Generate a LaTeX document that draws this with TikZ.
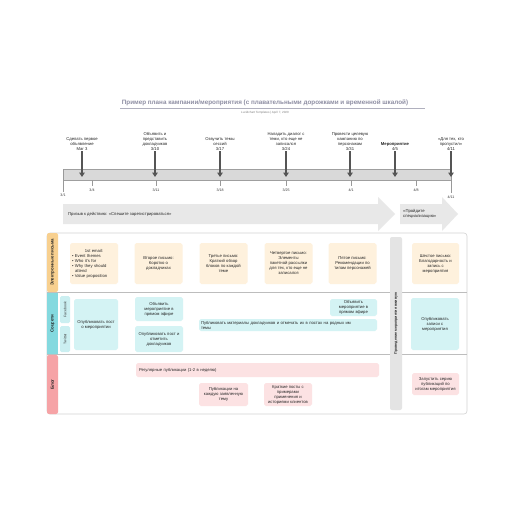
\documentclass[tikz,border=0pt]{standalone}
\usepackage{fontspec}
\setmainfont{Liberation Sans}
\usetikzlibrary{arrows.meta}
\definecolor{titlec}{HTML}{8E8EA3}
\definecolor{barc}{HTML}{D9D9D9}
\definecolor{bigarr}{HTML}{E8E8E8}
\definecolor{mcol}{HTML}{555555}
\definecolor{emailh}{HTML}{F8D08F}
\definecolor{emailc}{HTML}{FEF1DD}
\definecolor{socialh}{HTML}{84D9DF}
\definecolor{socialsub}{HTML}{CBEFF1}
\definecolor{socialc}{HTML}{D4F3F4}
\definecolor{blogh}{HTML}{F6A3A6}
\definecolor{blogc}{HTML}{FCE2E3}
\definecolor{lanec}{HTML}{BDBDBD}
\definecolor{liveg}{HTML}{E4E4E4}
\newcommand\cardf{\fontsize{4.2}{5}\selectfont}
\newcommand\tickf{\fontsize{3.6}{4.4}\selectfont}
\tikzset{
  card/.style={rounded corners=1.8pt, inner sep=0.8pt, align=center, font=\cardf, text=black!85},
  emailcard/.style={card, fill=emailc},
  socialcard/.style={card, fill=socialc},
  blogcard/.style={card, fill=blogc},
  mtext/.style={align=center, font=\cardf, text=black!85, inner sep=0.5pt},
  marrow/.style={mcol, line width=1.3pt, -{Triangle[length=4.5pt,width=5.5pt]}},
  tickline/.style={gray!80, line width=0.5pt},
  ticklabel/.style={font=\tickf, text=black!80, inner sep=0.5pt},
  lanehead/.style={inner sep=0pt, font=\fontsize{4.4}{5}\selectfont\bfseries, text=black!85},
  sublane/.style={inner sep=0pt, font=\fontsize{3.5}{4}\selectfont, text=black!80},
}
\begin{document}
\begin{tikzpicture}[x=1pt,y=-1pt]
\useasboundingbox (0,0) rectangle (516,516);
\fill[white] (0,0) rectangle (516,516);

% title
\node[font=\fontsize{6.3}{7}\selectfont\bfseries, text=titlec] (title) at (265,102.5)
  {Пример плана кампании/мероприятия (с плавательными дорожками и временной шкалой)};
\coordinate (tl) at (120,108.5);
\coordinate (tr) at (425,108.5);
\draw[titlec!70, line width=0.6pt] (tl) -- (tr);
\node[font=\fontsize{3}{3.6}\selectfont, text=gray] (sub) at (265,112.5) {Lucidchart Templates \textbar{} April 7, 2020};

% timeline bar
\node[draw=gray!75, fill=barc, line width=0.5pt, minimum width=388pt, minimum height=11pt, anchor=north west, inner sep=0pt] (bar) at (63,169) {};
\foreach \x/\l in {92/{3/4}, 156/{3/11}, 220/{3/18}, 286/{3/25}, 351/{4/1}, 416/{4/8}} {
  \draw[tickline] (\x,180) -- (\x,186);
  \node[ticklabel] at (\x,190.5) {\l};
}
\draw[tickline] (63,169) -- (63,192);
\node[ticklabel] (d0) at (63,195.5) {3/1};
\draw[tickline] (451,169) -- (451,193);
\node[ticklabel] (d1) at (451,197) {4/11};

% milestones
\node[mtext, anchor=south] (m1) at (82,151) {Сделать первое\\объявление\\Mar 3};
\node[mtext, anchor=south] (m2) at (155,151) {Объявить и\\представить\\докладчиков\\3/10};
\node[mtext, anchor=south] (m3) at (220,151) {Озвучить темы\\сессий\\3/17};
\node[mtext, anchor=south] (m4) at (286,151) {Наладить диалог с\\теми, кто еще не\\записался\\3/24};
\node[mtext, anchor=south] (m5) at (350,151) {Провести целевую\\кампанию по\\персонажам\\3/31};
\node[mtext, anchor=south] (m6) at (395,151) {\textbf{Мероприятие}\\4/5};
\node[mtext, anchor=south] (m7) at (451,151) {«Для тех, кто\\пропустил»\\4/11};
\foreach \i/\x in {1/82, 2/155, 3/220, 4/286, 5/350, 6/395, 7/451} {
  \coordinate (t\i) at (\x,177);
  \draw[marrow] (m\i.south) -- (t\i);
}

% big arrows
\fill[bigarr] (63,204) -- (378,204) -- (378,197) -- (395,214) -- (378,231) -- (378,224) -- (63,224) -- cycle;
\node[font=\cardf, anchor=west, inner sep=0pt, text=black!85] (cta1) at (68,214) {Призыв к действию: «Спешите зарегистрироваться»};
\fill[bigarr] (400,204) -- (442,204) -- (442,197) -- (458,214) -- (442,231) -- (442,224) -- (400,224) -- cycle;
\node[font=\cardf, anchor=west, inner sep=0pt, align=left, text=black!85] (cta2) at (403,214) {«Пройдите\\специализацию»};

% swimlane container
\draw[gray!35, line width=0.6pt, rounded corners=3pt, fill=white] (47,233) rectangle (467,414);
\draw[lanec, line width=0.8pt] (47,292.5) -- (467,292.5);
\draw[lanec, line width=0.8pt] (47,354.5) -- (467,354.5);

% lane headers
\fill[emailh, rounded corners=2pt] (47,233) rectangle (58,292);
\fill[socialh] (47,293) rectangle (58,354);
\fill[blogh, rounded corners=2pt] (47,355) rectangle (58,414);
\node[lanehead, rotate=90] (le) at (52.5,262.5) {Электронные письма};
\node[lanehead, rotate=90] (ls) at (52.5,323.5) {Соцсети};
\node[lanehead, rotate=90] (lb) at (52.5,384.5) {Блог};
\fill[socialsub, rounded corners=1.5pt] (60,296) rectangle (70,323);
\fill[socialsub, rounded corners=1.5pt] (60,326) rectangle (70,352);
\node[sublane, rotate=90] (fb) at (65,309.5) {Facebook};
\node[sublane, rotate=90] (tw) at (65,339) {Twitter};

% email cards
\node[emailcard, minimum width=48pt, minimum height=41pt, text width=44pt, align=left] (e1) at (94,263.5)
  {\centering 1st email:\par\raggedright
   \textbullet\ Event themes\\
   \textbullet\ Who it's for\\
   \textbullet\ Why they should\\\hspace*{3pt}attend\\
   \textbullet\ Value proposition};
\node[emailcard, minimum width=48pt, minimum height=41pt] (e2) at (158.5,263.5) {Второе письмо:\\Коротко о\\докладчиках};
\node[emailcard, minimum width=48pt, minimum height=41pt] (e3) at (223.5,263.5) {Третье письмо:\\Краткий обзор\\блоков по каждой\\теме};
\node[emailcard, minimum width=48pt, minimum height=41pt] (e4) at (288.5,263.5) {Четвертое письмо:\\Элементы\\пакетной рассылки\\для тех, кто еще не\\записался};
\node[emailcard, minimum width=48pt, minimum height=41pt] (e5) at (352.5,263.5) {Пятое письмо:\\Рекомендации по\\типам персонажей};
\node[emailcard, minimum width=47pt, minimum height=41pt] (e6) at (435.5,263.5) {Шестое письмо:\\Благодарность и\\запись с\\мероприятия};

% social cards
\node[socialcard, minimum width=44pt, minimum height=51pt] (s1) at (96,324.5) {Опубликовать пост\\о мероприятии};
\node[socialcard, minimum width=48pt, minimum height=24pt] (s2) at (159,309) {Объявить\\мероприятие в\\прямом эфире};
\node[socialcard, minimum width=48pt, minimum height=26pt] (s3) at (159,339) {Опубликовать пост и\\отметить\\докладчиков};
\node[socialcard, minimum width=178pt, minimum height=12pt, text width=174pt, align=left] (s4) at (288,325) {Публиковать материалы докладчиков и отмечать их в постах на родных им\\темы};
\node[socialcard, minimum width=47pt, minimum height=17pt] (s5) at (353.5,307.5) {Объявить\\мероприятие в\\прямом эфире};
\node[socialcard, minimum width=48pt, minimum height=52pt] (s6) at (435,324) {Опубликовать\\записи с\\мероприятия};

% blog cards
\node[blogcard, minimum width=243pt, minimum height=14pt, text width=237pt, align=left] (b1) at (257.5,370) {Регулярные публикации (1-2 в неделю)};
\node[blogcard, minimum width=49pt, minimum height=23pt] (b2) at (223.5,394.5) {Публикации на\\каждую заявленную\\тему};
\node[blogcard, minimum width=48pt, minimum height=23pt] (b3) at (288,394.5) {Краткие посты с\\примерами\\применения и\\историями клиентов};
\node[blogcard, minimum width=47pt, minimum height=22pt] (b4) at (435.5,384) {Запустить серию\\публикаций по\\итогам мероприятия};

% live event bar
\node[fill=liveg, rounded corners=2pt, minimum width=12pt, minimum height=173pt, inner sep=0pt] (live) at (396,323.5) {};
\node[rotate=90, font=\fontsize{3.6}{4.2}\selectfont\bfseries, inner sep=0pt, text=black!85] (livet) at (live.center) {Проведение мероприятия вживую};
\end{tikzpicture}
\end{document}
